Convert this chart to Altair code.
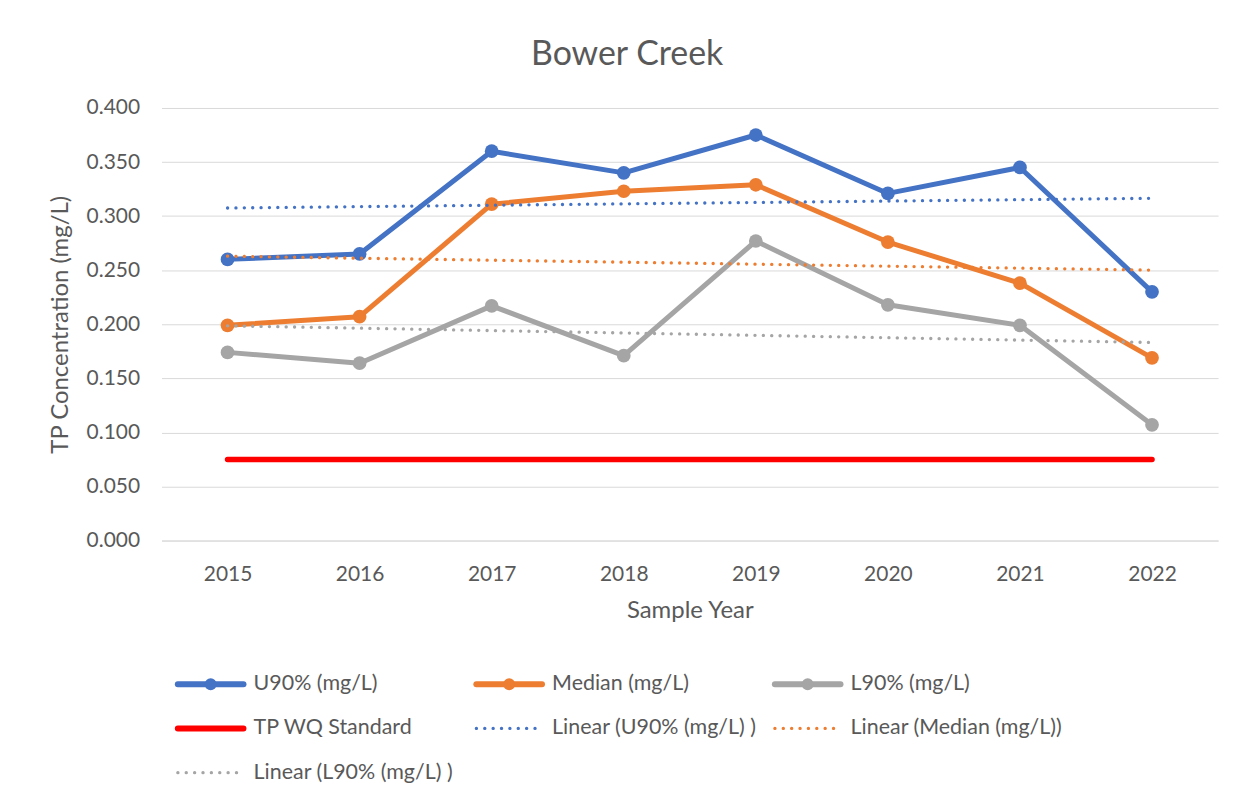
import altair as alt
import pandas as pd

years = [2015, 2016, 2017, 2018, 2019, 2020, 2021, 2022]
u90 = [0.260, 0.265, 0.360, 0.340, 0.375, 0.321, 0.345, 0.230]
median = [0.199, 0.207, 0.311, 0.323, 0.329, 0.276, 0.238, 0.169]
l90 = [0.174, 0.164, 0.217, 0.171, 0.277, 0.218, 0.199, 0.107]
standard = [0.075] * 8

series_names = ["U90% (mg/L)", "Median (mg/L)", "L90% (mg/L)"]
legend_labels = [
    "U90% (mg/L)", "Median (mg/L)", "L90% (mg/L)",
    "TP WQ Standard", "Linear (U90% (mg/L)  )", "Linear (Median (mg/L))",
    "Linear (L90% (mg/L)  )",
]
legend_kinds = ["marker", "marker", "marker", "solid", "dotted", "dotted", "dotted"]

series_colors = ["#4472C4", "#ED7D31", "#A5A5A5"]
legend_colors = ["#4472C4", "#ED7D31", "#A5A5A5", "#FF0000", "#4472C4", "#ED7D31", "#A5A5A5"]

FONT = "Lato"
TXT = "#595959"

rows = []
for name, vals in zip(series_names, [u90, median, l90]):
    for y, v in zip(years, vals):
        rows.append({"year": y, "series": name, "value": v})
df = pd.DataFrame(rows)
std_df = pd.DataFrame({"year": years, "value": standard})

x_enc = alt.X("year:Q", scale=alt.Scale(domain=[2014.5, 2022.5], nice=False, zero=False),
              axis=alt.Axis(values=years, format="d", title="Sample Year", grid=False,
                            ticks=False, domain=True, domainColor="#D9D9D9", domainWidth=1,
                            labelPadding=23, titlePadding=14))
y_enc = alt.Y("value:Q", scale=alt.Scale(domain=[0, 0.4], nice=False),
              axis=alt.Axis(values=[i * 0.05 for i in range(9)], format=".3f",
                            title="TP Concentration (mg/L)", grid=True, gridColor="#D9D9D9",
                            gridWidth=1, ticks=False, domain=False, labelPadding=22,
                            titlePadding=14))
color_enc = alt.Color("series:N", scale=alt.Scale(domain=series_names, range=series_colors),
                      legend=None)

base = alt.Chart(df)
trend = base.transform_regression("year", "value", groupby=["series"]).mark_line(
    strokeWidth=3.3, strokeDash=[0.1, 8.3], strokeCap="round"
).encode(x=x_enc, y=y_enc, color=color_enc)
std_line = alt.Chart(std_df).mark_line(color="#FF0000", strokeWidth=5.5, strokeCap="round").encode(
    x=x_enc, y=y_enc)
lines = base.mark_line(strokeWidth=5, strokeJoin="round").encode(x=x_enc, y=y_enc, color=color_enc)
points = base.mark_circle(size=190, opacity=1).encode(x=x_enc, y=y_enc, color=color_enc)

main = alt.layer(std_line, lines, points, trend).properties(width=1060, height=434)

# ---- legend panel ----
leg_df = pd.DataFrame({"label": legend_labels, "kind": legend_kinds})
lx = alt.Scale(domain=[0, 1060 / 298], nice=False, zero=False)
ly = alt.Scale(domain=[-0.5, 2.5], reverse=True, nice=False, zero=False)
leg_color = alt.Color("label:N", scale=alt.Scale(domain=legend_labels, range=legend_colors),
                      legend=None)
leg_base = alt.Chart(leg_df).transform_window(
    idx="row_number()"
).transform_calculate(
    col="(datum.idx - 1) % 3",
    row="floor((datum.idx - 1) / 3)",
).transform_calculate(
    x0="datum.col * 1.005 + 0.055", x1="datum.col * 1.005 + 0.055 + 0.221",
    xm="datum.col * 1.005 + 0.055 + 0.1105", xt="datum.col * 1.005 + 0.055 + 0.255",
)
X0 = alt.X("x0:Q", scale=lx, axis=None)
X1 = alt.X2("x1:Q")
Y = alt.Y("row:Q", scale=ly, axis=None)
leg_solid = leg_base.transform_filter("datum.kind != 'dotted'").mark_rule(
    strokeWidth=6, strokeCap="round").encode(x=X0, x2=X1, y=Y, color=leg_color)
leg_dot = leg_base.transform_filter("datum.kind == 'dotted'").mark_rule(
    strokeWidth=3.3, strokeDash=[0.1, 8.3], strokeCap="round").encode(x=X0, x2=X1, y=Y, color=leg_color)
leg_pt = leg_base.transform_filter("datum.kind == 'marker'").mark_circle(size=140, opacity=1).encode(
    x=alt.X("xm:Q", scale=lx, axis=None), y=Y, color=leg_color)
leg_txt = leg_base.mark_text(align="left", baseline="middle", font=FONT, fontSize=21.5,
                             color=TXT).encode(
    x=alt.X("xt:Q", scale=lx, axis=None), y=Y, text="label:N")
legend = alt.layer(leg_solid, leg_dot, leg_pt, leg_txt).properties(width=1060, height=133)

chart = alt.vconcat(main, legend, spacing=40).resolve_scale(
    color="independent", x="independent", y="independent"
).properties(
    title=alt.Title("Bower Creek", fontSize=34, font=FONT, color=TXT, fontWeight="normal",
                    anchor="middle", frame="bounds", offset=25, dx=-6),
    padding={"left": 40, "top": 29, "right": 20, "bottom": 10},
    background="white",
).configure_view(stroke=None).configure_axis(
    labelFont=FONT, titleFont=FONT, labelFontSize=21, titleFontSize=24,
    labelColor=TXT, titleColor=TXT, titleFontWeight="normal",
)

chart.save("out.html", embed_options={"renderer": "svg", "actions": False})
